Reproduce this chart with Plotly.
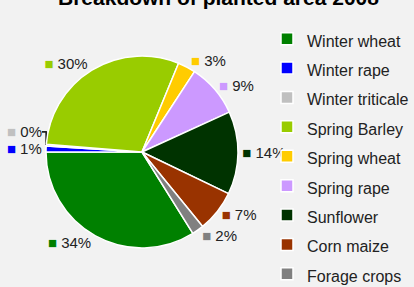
import plotly.graph_objects as go

categories = ["Winter wheat", "Winter rape", "Winter triticale", "Spring Barley",
              "Spring wheat", "Spring rape", "Sunflower", "Corn maize", "Forage crops"]
values = [34, 1, 0.3, 30, 3, 9, 14, 7, 2]
colors = ["#008000", "#0000FF", "#C0C0C0", "#99CC00", "#FFCC00",
          "#CC99FF", "#003300", "#993300", "#808080"]

W, H = 414, 287

legend_labels = [f"<span style='font-size:16px'>{c}</span>" for c in categories]
texttemplates = [f"<span style='color:{c}'>■</span> %{{percent:.0%}}" for c in colors]

fig = go.Figure(go.Pie(
    labels=legend_labels,
    values=values,
    sort=False,
    direction="clockwise",
    rotation=148,
    marker=dict(colors=colors, line=dict(color="white", width=1.5)),
    textposition="outside",
    texttemplate=texttemplates,
    textfont=dict(family="Liberation Sans, Arial", size=15, color="#222222"),
    domain=dict(x=[46 / W, 238 / W], y=[1 - 248 / H, 1 - 56 / H]),
    hoverinfo="label+percent",
))

fig.update_layout(
    width=W, height=H,
    margin=dict(l=0, r=0, t=0, b=0, autoexpand=False),
    paper_bgcolor="#f2f2f2",
    plot_bgcolor="#f2f2f2",
    font=dict(family="Liberation Sans, Arial", color="#222222"),
    legend=dict(
        x=267 / W, y=1 - 19 / H, xanchor="left", yanchor="top",
        font=dict(size=20.3, family="Liberation Sans, Arial", color="#222222"),
        bgcolor="rgba(0,0,0,0)",
        maxheight=400,
    ),
    annotations=[dict(
        text="<b>Breakdown of planted area 2008</b>",
        x=218 / W, y=1 + 2.4 / H, xref="paper", yref="paper",
        xanchor="center", yanchor="middle", showarrow=False,
        font=dict(size=21, family="Liberation Sans, Arial", color="#000000"),
    )],
)

fig.write_html("out.html",
               config={"displayModeBar": False},
               post_script="document.body.style.margin='0';document.body.style.background='#f2f2f2';")
